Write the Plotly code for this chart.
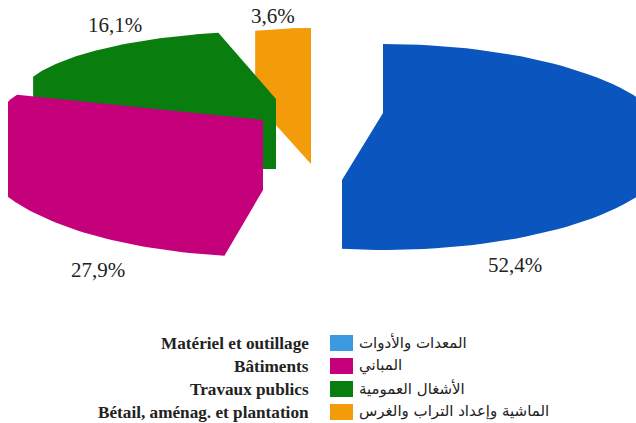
import numpy as np
import plotly.graph_objects as go

labels_fr = ["Matériel et outillage", "Bâtiments", "Travaux publics", "Bétail, aménag. et plantation"]
labels_ar = ["المعدات والأدوات", "المباني", "الأشغال العمومية", "الماشية وإعداد التراب والغرس"]
values = [52.4, 27.9, 16.1, 3.6]
slice_colors = ["#0A55BE", "#C4007A", "#0A7D0F", "#F49B0A"]
legend_colors = ["#3C9AE0", "#C4007A", "#0A7D0F", "#F49B0A"]

W, H = 636, 423
ends = np.cumsum(values) / sum(values) * 360
starts = np.concatenate([[0], ends[:-1]])


def arc(t0, t1, cx, cy, a, b, n=80):
    t = np.radians(np.linspace(t0, t1, n))
    return cx + a * np.sin(t), cy - b * np.cos(t)


# per-slice ellipse: cx, cy, a, b (the drawing is an exploded, flattened pie)
ell = [(383, 147, 290, 103), (268, 149, 290, 108), (276, 99, 257, 68), (311, 133, 249, 105)]

fig = go.Figure()


def add(i, x, y):
    fig.add_trace(go.Scatter(x=x, y=y, fill="toself", mode="lines", line=dict(width=0),
                             fillcolor=slice_colors[i], name=labels_fr[i], hoverinfo="name",
                             showlegend=False))


# orange
x, y = arc(starts[3], ends[3], *ell[3])
add(3, np.r_[x, x[-1], x[0]], np.r_[y, 164, 102])
# green
x, y = arc(starts[2], ends[2], *ell[2])
add(2, np.r_[x, ell[2][0], ell[2][0], x[0]], np.r_[y, ell[2][1], 169, 169])
# pink (upper edge of the print runs slightly further round the ellipse)
x, y = arc(starts[1], ends[1] + 11, *ell[1])
x = np.maximum(x, 8)
add(1, np.r_[x, 263, 263], np.r_[y, 120, 190])
# blue
x, y = arc(starts[0], ends[0], *ell[0])
x = np.maximum(x, 342)
add(0, np.r_[x, x[-1], x[0]], np.r_[y, 180, 113])

pct_pos = [(515, 265), (98, 270), (115, 25), (273, 16)]
ann = []
for v, (px, py) in zip(values, pct_pos):
    ann.append(dict(x=px, y=py, text=f"{v:.1f}".replace(".", ",") + "%", showarrow=False,
                    font=dict(family="Liberation Serif", size=21, color="#222222")))

rows = [343, 366, 389, 412]
shapes = []
for yy, fr, ar, c in zip(rows, labels_fr, labels_ar, legend_colors):
    ann.append(dict(x=311, y=yy, text=f"<b>{fr}</b>", showarrow=False, xanchor="right",
                    font=dict(family="Liberation Serif", size=17.2, color="#222222")))
    ann.append(dict(x=357, y=yy - 1, text=ar, showarrow=False, xanchor="left",
                    font=dict(family="DejaVu Sans", size=15, color="#222222")))
    shapes.append(dict(type="rect", x0=330, x1=353, y0=yy - 8, y1=yy + 8, fillcolor=c, line_width=0))

fig.update_layout(
    width=W, height=H, margin=dict(l=0, r=0, t=0, b=0), autosize=False,
    paper_bgcolor="white", plot_bgcolor="white", annotations=ann, shapes=shapes,
    xaxis=dict(range=[0, W], visible=False, fixedrange=True),
    yaxis=dict(range=[H, 0], visible=False, fixedrange=True),
)
fig.write_html("out.html", config=dict(displayModeBar=False),
               post_script="document.body.style.margin='0';")
